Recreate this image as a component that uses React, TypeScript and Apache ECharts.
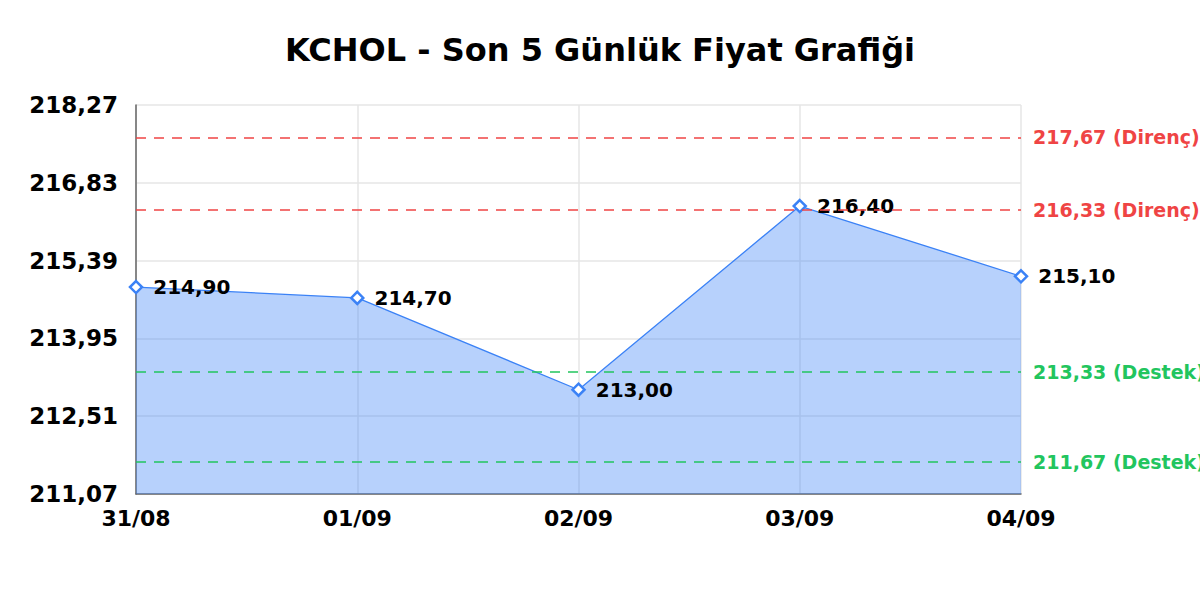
import React, { useEffect, useRef } from "react";
import * as echarts from "echarts";

const TITLE = "KCHOL - Son 5 Günlük Fiyat Grafiği";
const categories = ["31/08", "01/09", "02/09", "03/09", "04/09"];
const prices = [214.9, 214.7, 213.0, 216.4, 215.1];
const resistanceLevels = [217.67, 216.33];
const supportLevels = [213.33, 211.67];
const yMin = 211.07;
const yMax = 218.27;
const yInterval = 1.44;

const fmt = (v: number) => v.toFixed(2).replace(".", ",");

export default function App() {
  const ref = useRef<HTMLDivElement>(null);
  useEffect(() => {
    if (!ref.current) return;
    const chart = echarts.init(ref.current, undefined, { renderer: "svg" });
    const font = "DejaVu Sans";
    const mk = (v: number, color: string, name: string) => ({
      yAxis: v,
      lineStyle: { color, type: [10, 8], width: 1.5 },
      label: {
        show: true,
        position: "end",
        distance: 12,
        formatter: `${fmt(v)} (${name})`,
        color,
        fontFamily: font,
        fontWeight: "bold",
        fontSize: 19,
      },
    });
    chart.setOption({
      animation: false,
      backgroundColor: "#ffffff",
      title: {
        text: TITLE,
        left: "center",
        top: 29,
        textStyle: { fontFamily: font, fontWeight: "bold", fontSize: 32, color: "#000" },
      },
      grid: { left: 136, right: 179, top: 105, bottom: 106, containLabel: false },
      xAxis: {
        type: "category",
        data: categories,
        boundaryGap: false,
        axisLine: { show: true, lineStyle: { color: "#666", width: 1.5 } },
        axisTick: { show: false },
        splitLine: { show: true, lineStyle: { color: "#e6e6e6", width: 1.5 } },
        axisLabel: {
          fontFamily: font,
          fontWeight: "bold",
          fontSize: 22,
          color: "#000",
          margin: 13,
        },
      },
      yAxis: {
        type: "value",
        min: yMin,
        max: yMax,
        interval: yInterval,
        axisLine: { show: true, lineStyle: { color: "#666", width: 1.5 } },
        axisTick: { show: false },
        splitLine: { show: true, lineStyle: { color: "#e6e6e6", width: 1.5 } },
        axisLabel: {
          formatter: (v: number) => fmt(v),
          fontFamily: font,
          fontWeight: "bold",
          fontSize: 23,
          color: "#000",
          margin: 18,
        },
      },
      series: [
        {
          type: "line",
          data: prices,
          symbol: "diamond",
          symbolSize: 12,
          lineStyle: { color: "#3b82f6", width: 1.3 },
          itemStyle: { color: "#ffffff", borderColor: "#3b82f6", borderWidth: 2.5 },
          areaStyle: { color: "#3b82f6", opacity: 0.37 },
          label: {
            show: true,
            position: "right",
            distance: 10,
            formatter: (p: any) => fmt(p.value),
            fontFamily: font,
            fontWeight: "bold",
            fontSize: 20,
            color: "#000",
          },
          markLine: {
            silent: true,
            symbol: "none",
            data: [
              ...resistanceLevels.map((v) => mk(v, "#ef4444", "Direnç")),
              ...supportLevels.map((v) => mk(v, "#22c55e", "Destek")),
            ],
          },
        },
      ],
    });
    return () => chart.dispose();
  }, []);
  return (
    <div
      ref={ref}
      style={{ position: "fixed", left: 0, top: 0, width: 1200, height: 600, overflow: "hidden" }}
    />
  );
}
